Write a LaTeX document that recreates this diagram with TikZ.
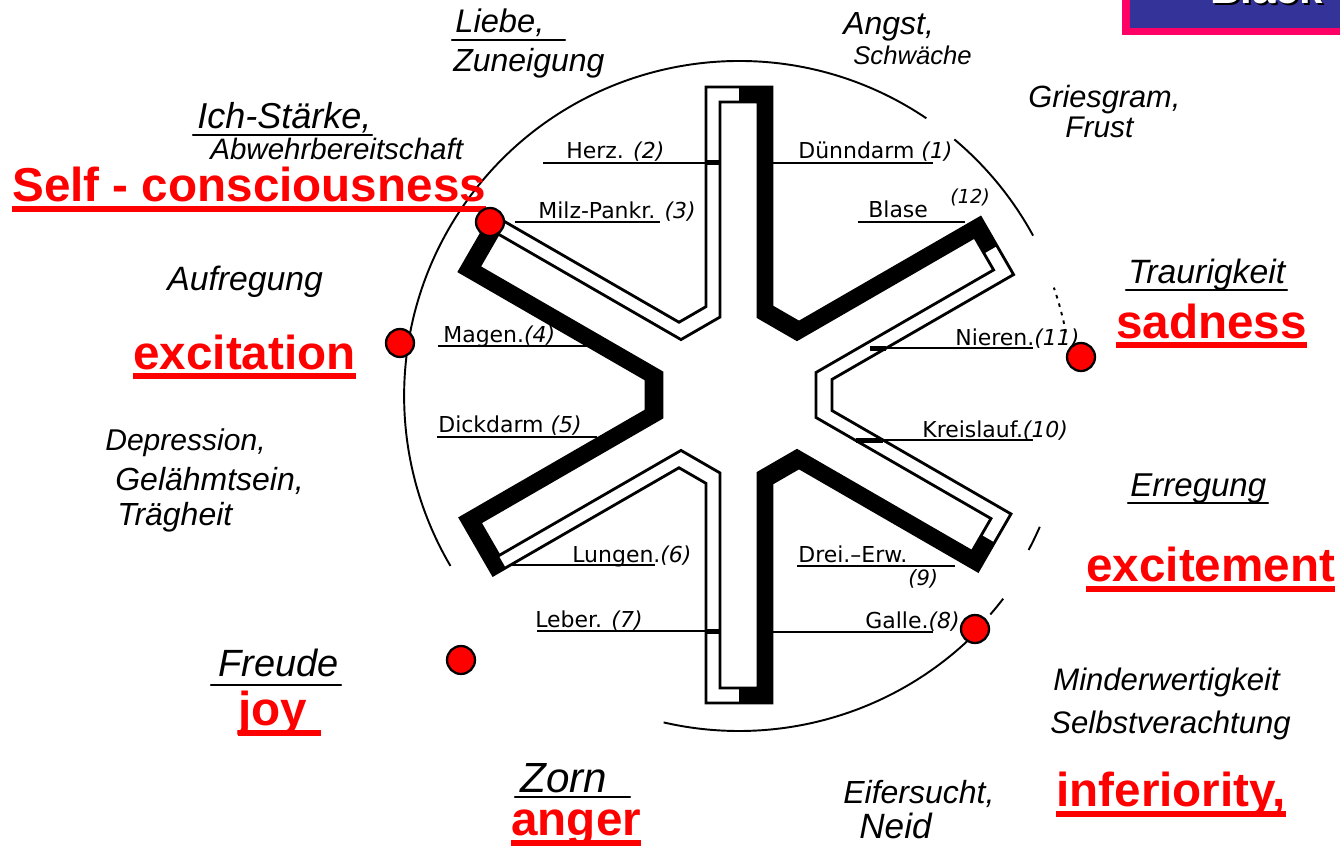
\documentclass[tikz,border=0pt]{standalone}
\usepackage{fontspec}
\setmainfont{Liberation Sans}
\newfontfamily\orgfont{DejaVu Sans}
\newfontfamily\handfont{Liberation Sans}
\usetikzlibrary{calc}
\definecolor{lblred}{HTML}{FF0000}
\definecolor{boxblue}{HTML}{333399}
\definecolor{boxpink}{HTML}{FF0066}
\newcommand\hsz[1]{\fontsize{#1}{#1}\selectfont}
\begin{document}
\begin{tikzpicture}[x=0.02cm,y=0.02cm,
  hand/.style={inner sep=0pt, anchor=base west, font=\handfont\itshape},
  org/.style={inner sep=0pt, anchor=base west, font=\orgfont\hsz{12.5}},
  redlbl/.style={inner sep=0pt, anchor=base west, text=lblred, font=\bfseries\hsz{27.1}},
  redul/.style={draw=lblred, line width=0.12cm},
  handul/.style={line width=1.4pt, line cap=round},
  contour/.style={line width=1.6pt, line join=miter},
  band/.style={line width=0.28cm, line join=miter},
  orgline/.style={line width=0.9pt},
  gapblock/.style={line width=0.1cm},
  ring/.style={line width=1.1pt},
  reddot/.style={circle, fill=lblred, draw=black, line width=1.3pt, minimum size=0.56cm, inner sep=0pt}
]
\useasboundingbox (0,0) rectangle (1340,-848);
\clip (0,0) rectangle (1340,-848);

% ---- box top right ----
\fill[boxpink] (1122,10) rectangle (1345,-35);
\fill[boxblue] (1130,10) rectangle (1345,-27.7);
\node[inner sep=0pt, anchor=base west, font=\bfseries\hsz{24}, text=black] (blks) at (1212,-5.5) {Black};
\node[inner sep=0pt, anchor=base west, font=\bfseries\hsz{24}, text=white] (blk) at (1210,-3.5) {Black};

% ---- circle ----
\coordinate (O) at (739,-396);
\draw[ring] ($(O)+(28.6:335)$) arc[start angle=28.6, end angle=50, radius=6.7cm];
\draw[ring] ($(O)+(56:335)$) arc[start angle=56, end angle=210.5, radius=6.7cm];
\draw[ring] ($(O)+(257:335)$) arc[start angle=257, end angle=316, radius=6.7cm];
\draw[ring] ($(O)+(319:333)$) arc[start angle=319, end angle=322.5, radius=6.66cm];
\draw[ring] ($(O)+(332:328)$) arc[start angle=332, end angle=336.5, radius=6.56cm];
\draw[ring, dash pattern=on 2pt off 3pt] ($(O)+(11:333)$) arc[start angle=11, end angle=19, radius=6.66cm];

% ---- star ----
\coordinate (C) at (739,-395);
\foreach \myang/\len in {30/298,90/308,150/304,210/303,270/308,330/295}{
  \pgfmathsetmacro\Li{\len-15}
  \pgfmathsetmacro\Lm{\len-7.5}
  \pgfmathsetmacro\ta{\myang-90}
  \pgfmathsetmacro\tb{\myang+90}
  \coordinate (o\myang a) at ($(C)+(\myang:88.34)+(\ta:33)$);
  \coordinate (o\myang b) at ($(C)+(\myang:\len)+(\ta:33)$);
  \coordinate (o\myang c) at ($(C)+(\myang:\len)+(\tb:33)$);
  \coordinate (o\myang d) at ($(C)+(\myang:88.34)+(\tb:33)$);
  \coordinate (i\myang a) at ($(C)+(\myang:77.94)+(\ta:19)$);
  \coordinate (i\myang b) at ($(C)+(\myang:\Li)+(\ta:19)$);
  \coordinate (i\myang c) at ($(C)+(\myang:\Li)+(\tb:19)$);
  \coordinate (i\myang d) at ($(C)+(\myang:77.94)+(\tb:19)$);
  \coordinate (m\myang a) at ($(C)+(\myang:83.14)+(\ta:26)$);
  \coordinate (m\myang b) at ($(C)+(\myang:\Lm)+(\ta:26)$);
  \coordinate (m\myang c) at ($(C)+(\myang:\Lm)+(\tb:26)$);
  \coordinate (m\myang d) at ($(C)+(\myang:83.14)+(\tb:26)$);
}
% thick shaded bands
\draw[band] ($(m30b)!0.5!(m30c)$) -- (m30c) -- (m30d) -- (m90a) -- (m90b) -- ($(m90b)!0.5!(m90c)$);
\draw[band] ($(m270b)!0.5!(m270c)$) -- (m270c) -- (m270d) -- (m330a) -- (m330b) -- ($(m330b)!0.5!(m330c)$);
\draw[band, line cap=rect] (m150b) -- (m150c) -- (m150d) -- (m210a) -- (m210b) -- (m210c);
% outer and inner contours
\draw[contour] (o30a)--(o30b)--(o30c)--(o30d)--(o90a)--(o90b)--(o90c)--(o90d)--(o150a)--(o150b)--(o150c)--(o150d)--(o210a)--(o210b)--(o210c)--(o210d)--(o270a)--(o270b)--(o270c)--(o270d)--(o330a)--(o330b)--(o330c)--(o330d)--cycle;
\draw[contour] (i30a)--(i30b)--(i30c)--(i30d)--(i90a)--(i90b)--(i90c)--(i90d)--(i150a)--(i150b)--(i150c)--(i150d)--(i210a)--(i210b)--(i210c)--(i210d)--(i270a)--(i270b)--(i270c)--(i270d)--(i330a)--(i330b)--(i330c)--(i330d)--cycle;

% ---- organ label lines ----
\draw[orgline] (543,-163) -- (720,-163);
\draw[gapblock] (706,-163) -- (720,-163);
\draw[orgline] (758,-163) -- (933,-163);
\draw[orgline] (515,-222) -- (660,-222);
\draw[orgline] (858,-222) -- (965,-222);
\draw[orgline] (438,-346) -- (590,-346);
\draw[orgline] (870,-348) -- (1033,-348);
\draw[gapblock] (870,-348) -- (886,-348);
\draw[orgline] (437,-437) -- (597,-437);
\draw[orgline] (856,-440) -- (1033,-440);
\draw[gapblock] (856,-440) -- (883,-440);
\draw[orgline] (512,-565) -- (655,-565);
\draw[orgline] (797,-566) -- (955,-566);
\draw[orgline] (537,-631) -- (720,-631);
\draw[gapblock] (706,-631) -- (720,-631);
\draw[orgline] (758,-632) -- (933,-632);

% ---- organ labels ----
\node[org] (herz) at (566,-159) {Herz. \textit{(2)}};
\node[org] (duenn) at (798,-159) {Dünndarm \textit{(1)}};
\node[org] (milz) at (538,-218) {Milz-Pankr. \textit{(3)}};
\node[org] (blase) at (868,-217) {Blase};
\node[org, font=\orgfont\itshape\hsz{11}] (blasen) at (950,-204) {(12)};
\node[org] (magen) at (443,-342) {Magen.\textit{(4)}};
\node[org] (nieren) at (955,-345) {Nieren.\textit{(11)}};
\node[org] (dick) at (438,-432) {Dickdarm \textit{(5)}};
\node[org] (kreis) at (922,-437) {Kreislauf.\textit{(10)}};
\node[org] (lungen) at (572,-562) {Lungen.\textit{(6)}};
\node[org] (drei) at (798,-562) {Drei.–Erw.};
\node[org, font=\orgfont\itshape\hsz{12}] (drein) at (908,-585) {(9)};
\node[org] (leber) at (535,-627) {Leber. \textit{(7)}};
\node[org] (galle) at (865,-628) {Galle.\textit{(8)}};

% ---- handwritten labels ----
\node[hand] (liebe) at (455,-33) {\hsz{18.6}Liebe,};
\draw[handul] (452,-40) -- (565,-40);
\node[hand] (zun) at (453,-72) {\hsz{18.2}Zuneigung};
\node[hand] (angst) at (843,-35) {\hsz{18.2}Angst,};
\node[hand] (schw) at (853,-65) {\hsz{14.6}Schwäche};
\node[hand] (gries) at (1028,-108) {\hsz{17.5}Griesgram,};
\node[hand] (frust) at (1065,-138) {\hsz{17}Frust};
\node[hand] (trau) at (1128,-283) {\hsz{19.2}Traurigkeit};
\draw[handul] (1126,-290) -- (1287,-290);
\node[hand] (ich) at (197,-129) {\hsz{20.5}Ich-Stärke,};
\draw[handul] (193,-135) -- (372,-135);
\node[hand] (abw) at (210,-160) {\hsz{16.8}Abwehrbereitschaft};
\node[hand] (aufr) at (167,-290) {\hsz{19.2}Aufregung};
\node[hand] (depr) at (105,-450) {\hsz{17.1}Depression,};
\node[hand] (gel) at (115,-490) {\hsz{18.2}Gelähmtsein,};
\node[hand] (traeg) at (117,-525) {\hsz{18.2}Trägheit};
\node[hand] (freude) at (218,-676) {\hsz{21.6}Freude};
\draw[handul] (211,-685) -- (341,-685);
\node[hand] (zorn) at (520,-792) {\hsz{24}Zorn};
\draw[handul] (515,-797) -- (630,-797);
\node[hand] (eifer) at (843,-803) {\hsz{18.2}Eifersucht,};
\node[hand] (neid) at (859,-838) {\hsz{20}Neid};
\node[hand] (minder) at (1053,-690) {\hsz{17.7}Minderwertigkeit};
\node[hand] (selbst) at (1050,-733) {\hsz{17.7}Selbstverachtung};
\node[hand] (erreg) at (1130,-496) {\hsz{18.8}Erregung};
\draw[handul] (1128,-503) -- (1268,-503);

% ---- red labels ----
\node[redlbl] (r1) at (12,-202) {Self - consciousness};
\draw[redul] ([yshift=-0.15cm]r1.base west) -- ([yshift=-0.15cm]r1.base east);
\node[redlbl] (r2) at (133,-369) {excitation};
\draw[redul] ([yshift=-0.15cm]r2.base west) -- ([yshift=-0.15cm]r2.base east);
\node[redlbl] (r3) at (1116,-338) {sadness};
\draw[redul] ([yshift=-0.15cm]r3.base west) -- ([yshift=-0.15cm]r3.base east);
\node[redlbl] (r4) at (1086,-581) {excitement};
\draw[redul] ([yshift=-0.15cm]r4.base west) -- ([yshift=-0.15cm]r4.base east);
\node[redlbl] (r5) at (238,-725) {joy};
\draw[redul] ([yshift=-0.15cm]r5.base west) -- ([yshift=-0.15cm,xshift=0.27cm]r5.base east);
\node[redlbl] (r6) at (511,-835) {anger};
\draw[redul] ([yshift=-0.15cm]r6.base west) -- ([yshift=-0.15cm]r6.base east);
\node[redlbl] (r7) at (1056,-806) {inferiority,};
\draw[redul] ([yshift=-0.15cm]r7.base west) -- ([yshift=-0.15cm]r7.base east);

% ---- red dots ----
\node[reddot] (d1) at (490,-222) {};
\node[reddot] (d2) at (400,-343) {};
\node[reddot] (d3) at (1081,-357) {};
\node[reddot] (d4) at (975,-629) {};
\node[reddot] (d5) at (461,-660) {};
\end{tikzpicture}
\end{document}
